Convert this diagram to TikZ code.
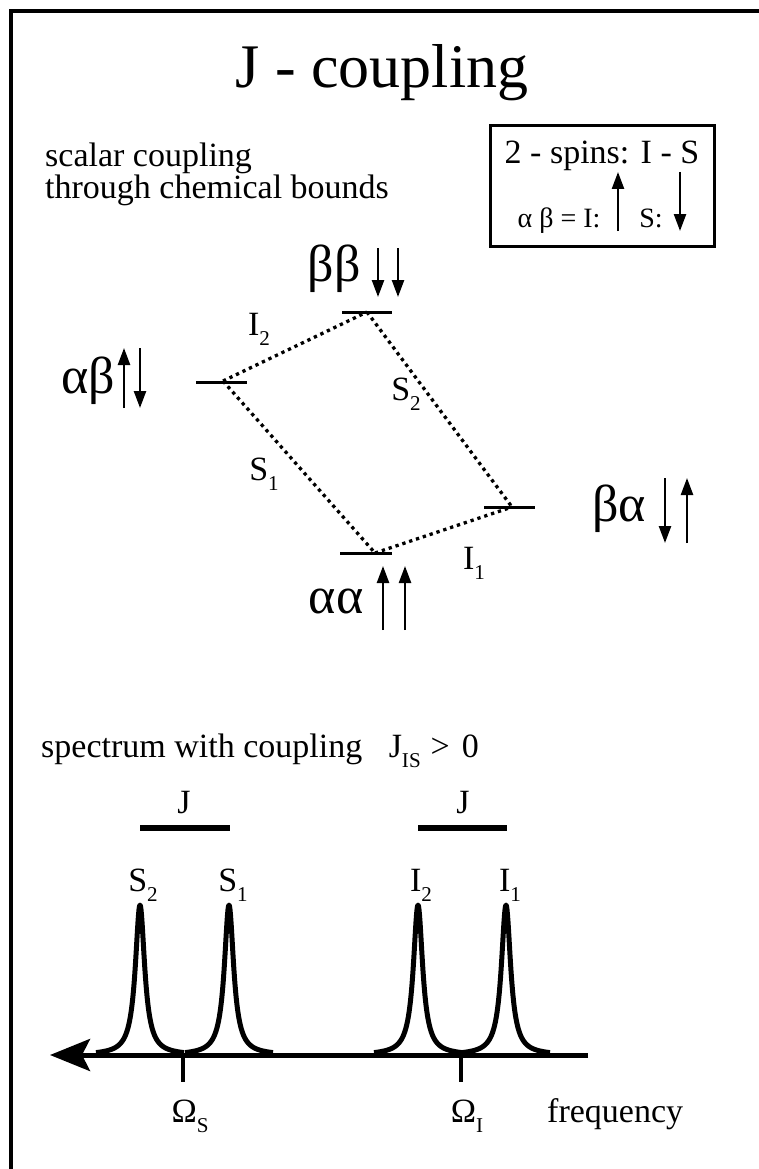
\documentclass[tikz,border=0pt]{standalone}
\usepackage{fontspec}
\setmainfont{Liberation Serif}
\usetikzlibrary{arrows.meta, positioning}

\newcommand{\setfs}[1]{\fontsize{#1}{#1}\selectfont}
\newcommand{\lowsub}[1]{\raisebox{-0.32em}{\scalebox{0.62}{#1}}}

\begin{document}
\begin{tikzpicture}[
    x=1pt, y=-1pt,
    txt/.style={inner sep=0pt, font=\setfs{34}},
    small/.style={inner sep=0pt, font=\setfs{28}},
    big/.style={inner sep=0pt, font=\setfs{52}},
    lvl/.style={line width=3pt},
    link/.style={line width=3.3pt, dash pattern=on 3.3pt off 3.9pt},
    spin/.style={line width=2.4pt, -{Triangle[length=17pt,width=12pt]}},
    peak/.style={line width=5pt, line join=round},
    jbar/.style={line width=6pt}
]
\useasboundingbox (0,0) rectangle (759,1169);
\draw[line width=4pt] (11,1200) -- (11,11) -- (800,11);

% title and remark
\node[inner sep=0pt, font=\setfs{62}, anchor=base] (title) at (382,88) {J - coupling};
\node[txt, anchor=base west] (remark1) at (45,167) {scalar coupling};
\node[txt, anchor=base west] (remark2) at (45,199) {through chemical bounds};

% legend box
\node[draw, line width=3pt, minimum width=224pt, minimum height=121pt] (legend) at (602,186) {};
\node[txt, anchor=base] (spins) at (602,164) {2 - spins: I - S};
\node[small, anchor=base] (abeq) at (559,227) {α β = I:};
\node[small, anchor=base] (slabel) at (651,227) {S:};
\draw[spin] (618,231) -- (618,172);
\draw[spin] (680,172) -- (680,231);

% energy levels
\coordinate (ab) at (223,381);
\coordinate (bb) at (367,312);
\coordinate (aa) at (375,553);
\coordinate (ba) at (512,507);
\draw[lvl] (196,382) -- (247,382);
\draw[lvl] (342,312) -- (392,312);
\draw[lvl] (340,553) -- (392,553);
\draw[lvl] (484,507) -- (535,507);

% transitions
\draw[link] (ab) -- (bb);
\draw[link] (bb) -- (ba);
\draw[link] (ab) -- (aa);
\draw[link] (aa) -- (ba);
\node[txt, anchor=base] (I2) at (259,335) {I\lowsub{2}};
\node[txt, anchor=base] (S2) at (406,400) {S\lowsub{2}};
\node[txt, anchor=base] (S1) at (264,480) {S\lowsub{1}};
\node[txt, anchor=base] (I1) at (474,569) {I\lowsub{1}};

% state labels
\node[big, anchor=base] (abtxt) at (88,393) {αβ};
\draw[spin] (124,408) -- (124,348);
\draw[spin] (140,348) -- (140,408);
\node[big, anchor=base] (bbtxt) at (334,281) {ββ};
\draw[spin] (378,248) -- (378,297);
\draw[spin] (398,248) -- (398,297);
\node[big, anchor=base] (aatxt) at (336,613) {αα};
\draw[spin] (383,630) -- (383,566);
\draw[spin] (405,630) -- (405,566);
\node[big, anchor=base] (batxt) at (619,521) {βα};
\draw[spin] (665,478) -- (665,543);
\draw[spin] (687,543) -- (687,478);

% spectrum
\node[txt, anchor=base west] (spec) at (41,757)
    {spectrum with coupling\hspace{18pt} J\lowsub{IS}\hspace{10pt}>\hspace{12pt}0};
\draw[jbar] (140,828) -- (230,828);
\draw[jbar] (418,828) -- (507,828);
\node[txt, anchor=base] (JS) at (184,813) {J};
\node[txt, anchor=base] (JI) at (463,813) {J};

\coordinate (axR) at (588,1055);
\coordinate (axL) at (50,1055);
\foreach \p in {140,229,418,506}
    \draw[peak] plot[domain=-44:44, samples=177] ({\p+\x},{1055-150*32/(32+\x*\x)});
\draw[line width=5pt, -{Stealth[length=40pt,width=32pt,inset=8pt]}] (axR) -- (axL);
\draw[line width=4pt] (183,1055) -- (183,1082);
\draw[line width=4pt] (461,1055) -- (461,1082);

\node[txt, anchor=base] (S2p) at (143,891) {S\lowsub{2}};
\node[txt, anchor=base] (S1p) at (233,891) {S\lowsub{1}};
\node[txt, anchor=base] (I2p) at (421,891) {I\lowsub{2}};
\node[txt, anchor=base] (I1p) at (510,891) {I\lowsub{1}};

\node[txt, anchor=base] (omS) at (190,1122) {Ω\lowsub{S}};
\node[txt, anchor=base] (omI) at (467,1122) {Ω\lowsub{I}};
\node[txt, anchor=base west] (freq) at (547,1122) {frequency};
\end{tikzpicture}
\end{document}
